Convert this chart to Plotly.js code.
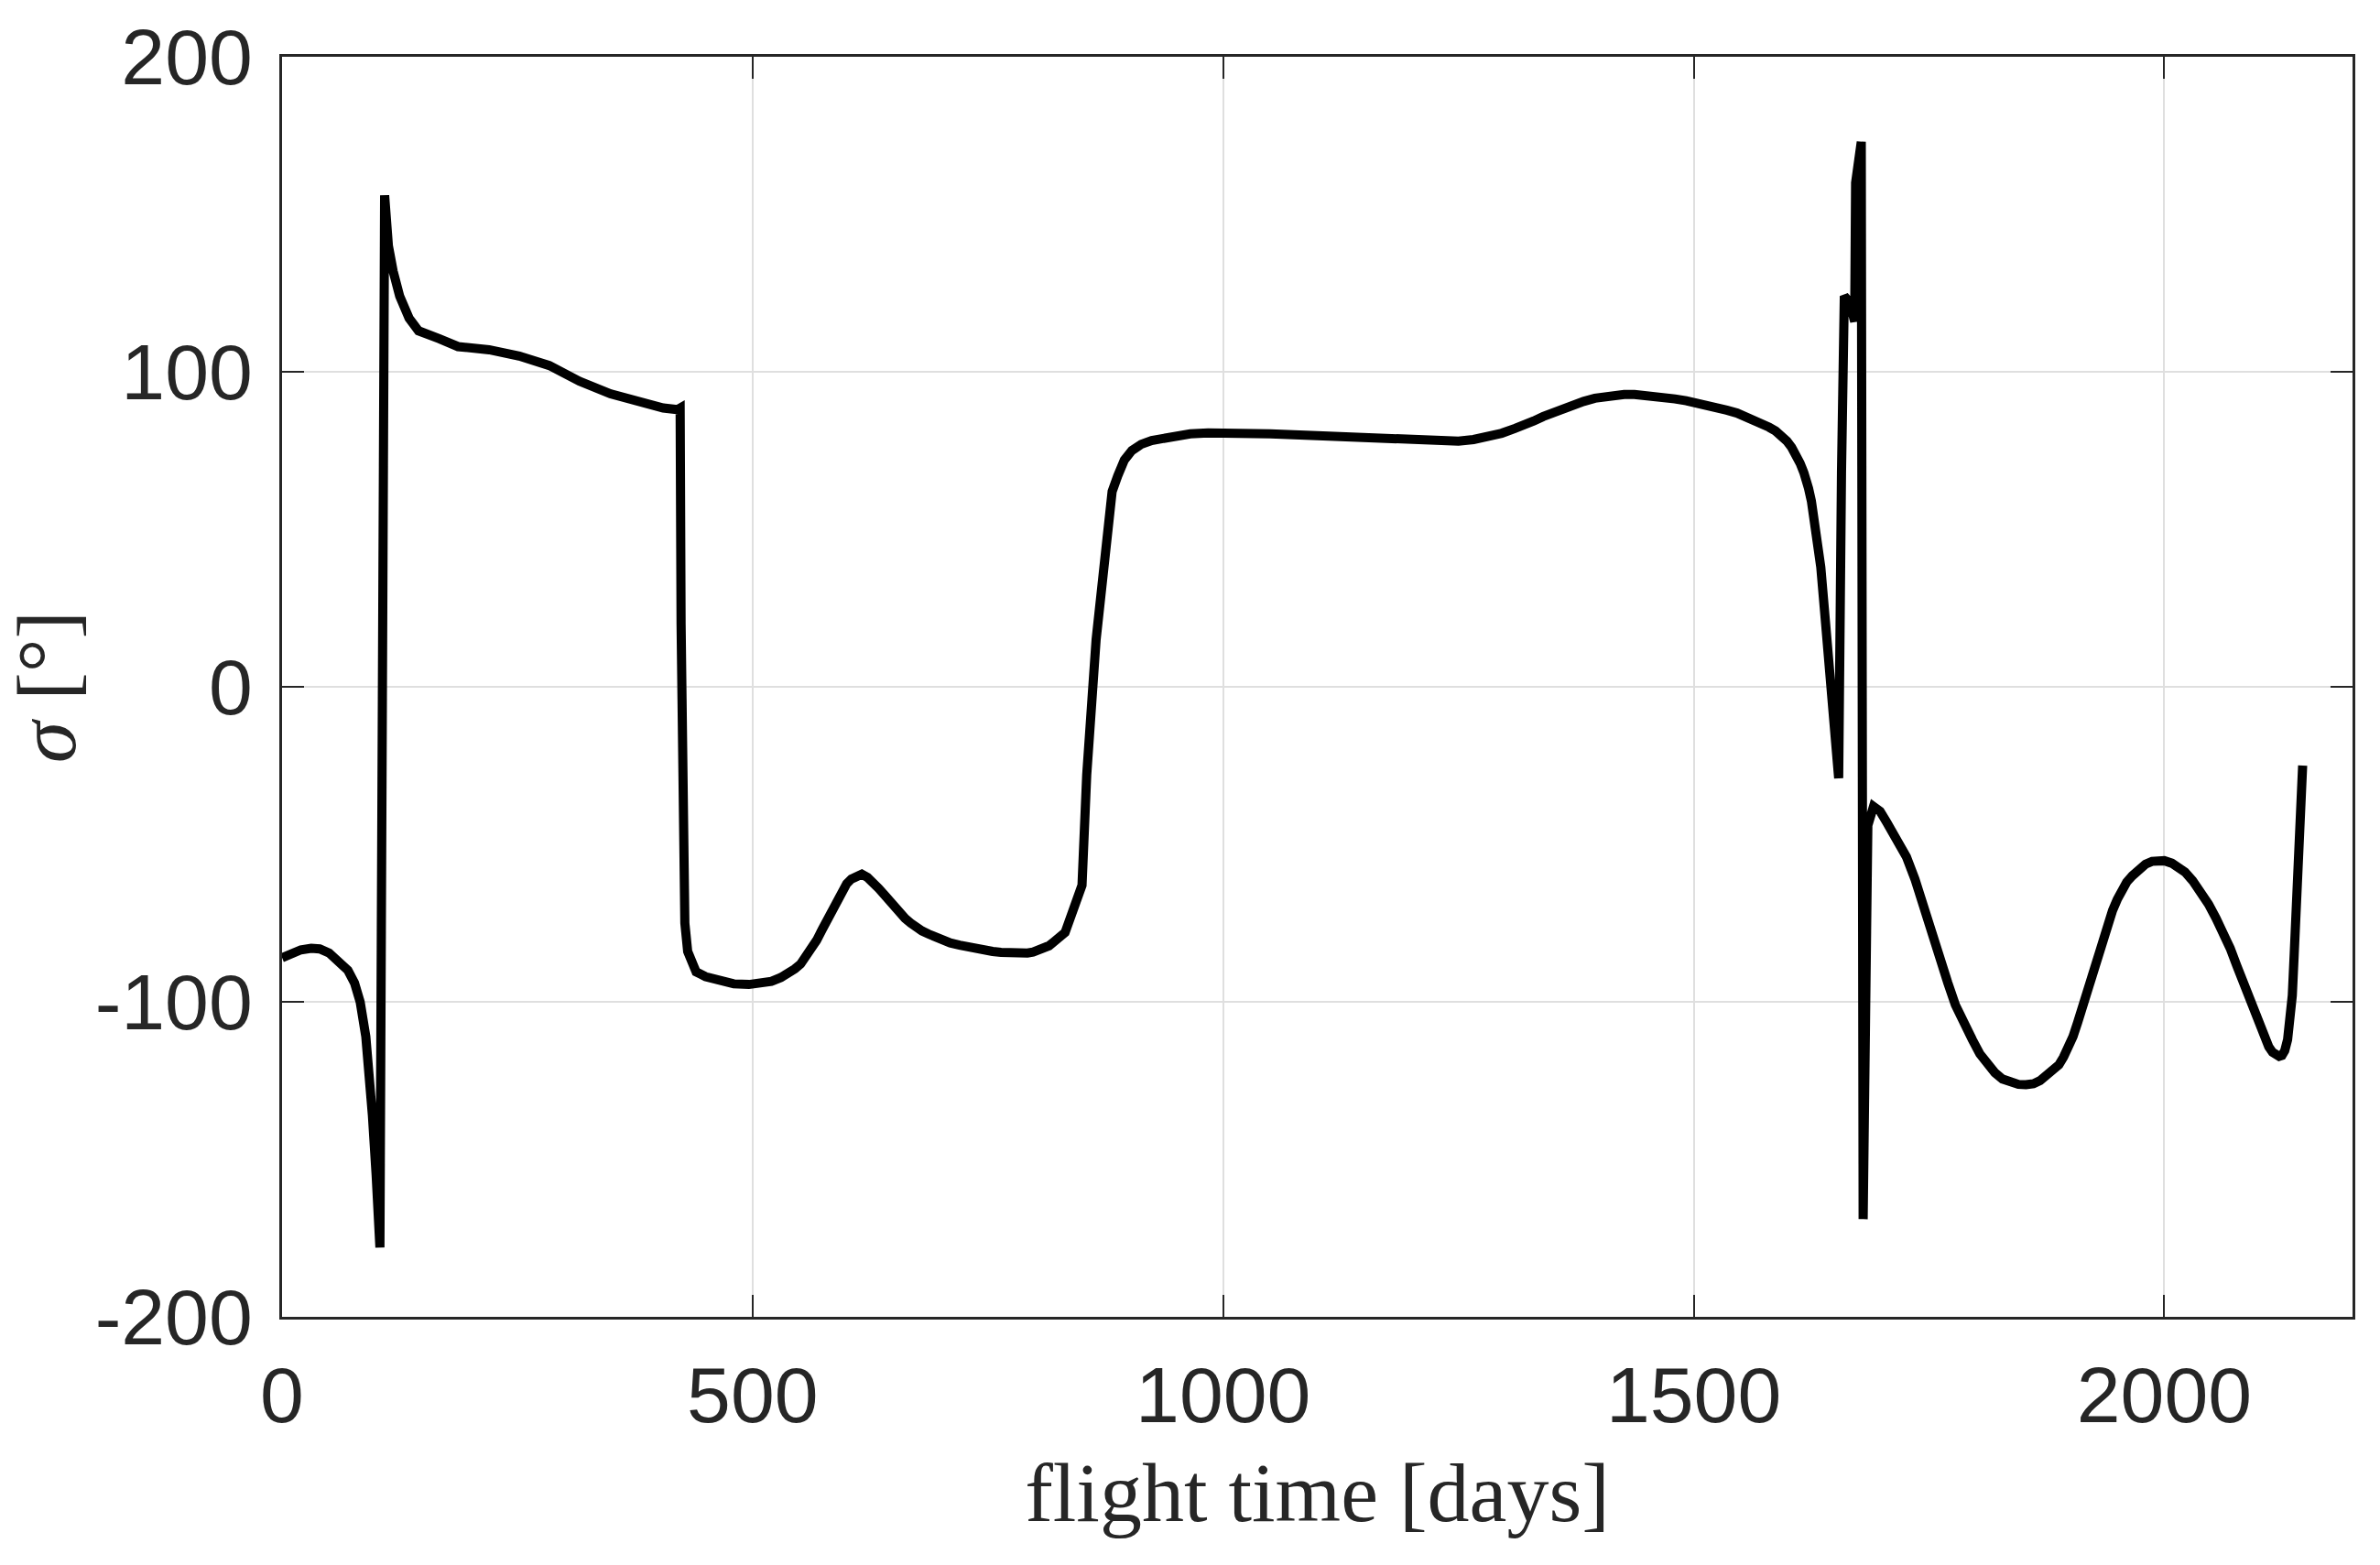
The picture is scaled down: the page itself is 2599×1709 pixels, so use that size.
<!DOCTYPE html>
<html>
<head>
<meta charset="utf-8">
<script src="https://cdn.plot.ly/plotly-3.0.1.min.js"></script>
<style>html,body{margin:0;padding:0;background:#fff;}#chart{width:2599px;height:1709px;}</style>
</head>
<body>
<div id="chart"></div>
<script>
// flight time [days] (one line per stretch; each line has the same count as the matching sigma line)
const flightTime = [
  0, 10, 20, 31, 40, 50, 60, 70, 77, 83, 89, 93, 96, 100, 104, 109, 113, 118, 125, 135, 145, 167, 187, 220, 252, 284, 316, 349, 381, 405, 420, 423,
  424, 426, 428, 431, 436, 440, 450, 465, 480, 496, 510, 520, 530, 538, 545, 551, 556, 562, 568, 574, 580, 585, 590, 595, 600, 605, 611, 616, 622, 628,
  634, 640, 646, 651, 657, 662, 668, 672, 680, 687, 695, 702, 710, 720, 728, 737, 746, 755, 764, 772, 780, 786, 792, 798, 804, 810, 815, 820, 826, 832,
  850, 855, 865, 877, 882, 888, 895, 903, 913, 924, 936, 950, 965, 984, 1014, 1050, 1100, 1150, 1188, 1210, 1231, 1250, 1266, 1282, 1296, 1310, 1320, 1330, 1340, 1352,
  1362, 1372, 1383, 1395, 1405, 1415, 1426, 1437, 1448, 1460, 1470, 1480, 1492, 1503, 1513, 1525, 1535, 1546, 1556, 1565, 1573, 1580, 1587, 1593, 1599, 1604, 1609, 1613, 1617, 1620,
  1622, 1625, 1627, 1630, 1633, 1635, 1639, 1644, 1649, 1652, 1654,
  1657, 1660, 1663, 1667, 1670, 1671, 1672, 1678, 1680, 1685, 1691,
  1698, 1705, 1715, 1726, 1735, 1743, 1752, 1761, 1770, 1778,
  1787, 1796, 1804, 1812, 1820, 1828, 1836, 1845, 1853, 1861,
  1868, 1875, 1882, 1888, 1893, 1898, 1903, 1908, 1913, 1918,
  1924, 1930, 1935, 1940, 1945, 1950, 1955, 1960, 1966, 1973,
  1980, 1987, 1993, 2000, 2008, 2015, 2022, 2030, 2039, 2047,
  2055, 2063, 2070, 2077, 2084, 2090, 2096, 2101, 2106, 2111,
  2115, 2119, 2122, 2125, 2128, 2131, 2134, 2136, 2138, 2140,
  2142, 2144, 2145, 2147];
// sigma [deg]
const sigmaDeg = [
  -86, -84.5, -83.5, -83, -83.2, -84.5, -87, -90, -94, -100, -111, -122, -136, -155, -178, 156, 140, 132, 124, 117, 113, 110.5, 108, 107, 105, 102, 97, 93, 90, 88.5, 88, 88.5,
  20, -50, -75, -84, -89, -90.5, -92, -93.5, -94.3, -94.5, -94.2, -93.5, -92.3, -91, -89.5, -88, -86, -83.5, -80.5, -77, -73.5, -70.5, -67.5, -64.5, -62.5, -61, -60, -59.5, -60.5, -62,
  -64, -66, -68.3, -70, -72, -73.5, -75, -76, -77.5, -78.5, -79.6, -80.5, -81.3, -82, -82.6, -83.1, -83.6, -84, -84.3, -84.5, -84.6, -84.6, -84.5, -84.2, -83.7, -83, -82.2, -81, -79.5, -78,
  -63, -28, 15, 47, 62, 67, 72, 75, 77, 78.2, 79, 79.8, 80.3, 80.6, 80.6, 80.3, 79.7, 79, 78.3, 78, 77.9, 78, 78.5, 79.3, 80.5, 82, 83, 84.4, 85.8, 87.3,
  88.5, 89.6, 90.6, 91.6, 92.2, 92.6, 92.8, 92.8, 92.6, 92.3, 92, 91.4, 90.8, 90.2, 89.6, 88.7, 87.8, 86.9, 85.8, 84.5, 83.3, 82.4, 81.2, 79.8, 78, 76, 73.6, 71, 68, 65.5,
  63, 59, 55.5, 50, 43, 38, 24, 4, -17, -25, -29,
  68, 124, 123, 121, 117, 116, 160, 173, -169, -44, -38,
  -39.5, -43, -48, -54, -61, -69, -77, -86, -94, -101,
  -107, -112, -116.5, -120, -122.5, -124.5, -125.5, -126.2, -126.3, -126,
  -125, -123.5, -122, -120, -117.5, -114.5, -111, -106.5, -101.5, -96,
  -90, -84, -79, -75, -71, -67.5, -64.5, -62, -60, -57.8,
  -56.3, -55.4, -55, -55.2, -56, -57, -58.8, -61.5, -65, -69,
  -73.5, -78, -83, -88.5, -94, -99, -104, -108, -111.5, -114.3,
  -116, -117, -117.3, -117, -115.5, -112, -106, -98, -85, -71,
  -57, -43, -36, -25];

const xTicks = [0, 500, 1000, 1500, 2000];
const yTicks = [-200, -100, 0, 100, 200];

const axisColor = '#262626';
const tickFont = {family: 'Liberation Sans, Arial, sans-serif', size: 86, color: axisColor};

const trace = {
  x: flightTime,
  y: sigmaDeg,
  type: 'scatter',
  mode: 'lines',
  line: {color: '#000000', width: 10},
  showlegend: false,
  hoverinfo: 'skip'
};

const layout = {
  width: 2599,
  height: 1709,
  paper_bgcolor: '#ffffff',
  plot_bgcolor: '#ffffff',
  margin: {l: 308, r: 30, t: 62, b: 271, pad: 0},
  xaxis: {
    range: [0, 2200],
    tickvals: xTicks,
    ticktext: xTicks.map(String),
    ticks: 'inside',
    ticklen: 24,
    tickwidth: 2,
    tickcolor: axisColor,
    showline: true,
    linecolor: axisColor,
    linewidth: 3,
    mirror: 'ticks',
    showgrid: true,
    gridcolor: '#dfdfdf',
    gridwidth: 2,
    zeroline: false,
    tickfont: tickFont,
    ticklabelstandoff: 9,
    automargin: false,
    title: {text: 'flight time [days]', font: {family: 'Liberation Serif, Times New Roman, serif', size: 92, color: axisColor}, standoff: 27}
  },
  yaxis: {
    range: [-200, 200],
    tickvals: yTicks,
    ticktext: yTicks.map(String),
    ticks: 'inside',
    ticklen: 24,
    tickwidth: 2,
    tickcolor: axisColor,
    showline: true,
    linecolor: axisColor,
    linewidth: 3,
    mirror: 'ticks',
    showgrid: true,
    gridcolor: '#dfdfdf',
    gridwidth: 2,
    zeroline: false,
    tickfont: tickFont,
    ticklabelstandoff: 12,
    automargin: false,
    title: {text: '<i>σ</i> [°]', font: {family: 'Liberation Serif, Times New Roman, serif', size: 92, color: axisColor}, standoff: 2}
  }
};

Plotly.newPlot('chart', [trace], layout, {staticPlot: true, displayModeBar: false});
</script>
</body>
</html>
